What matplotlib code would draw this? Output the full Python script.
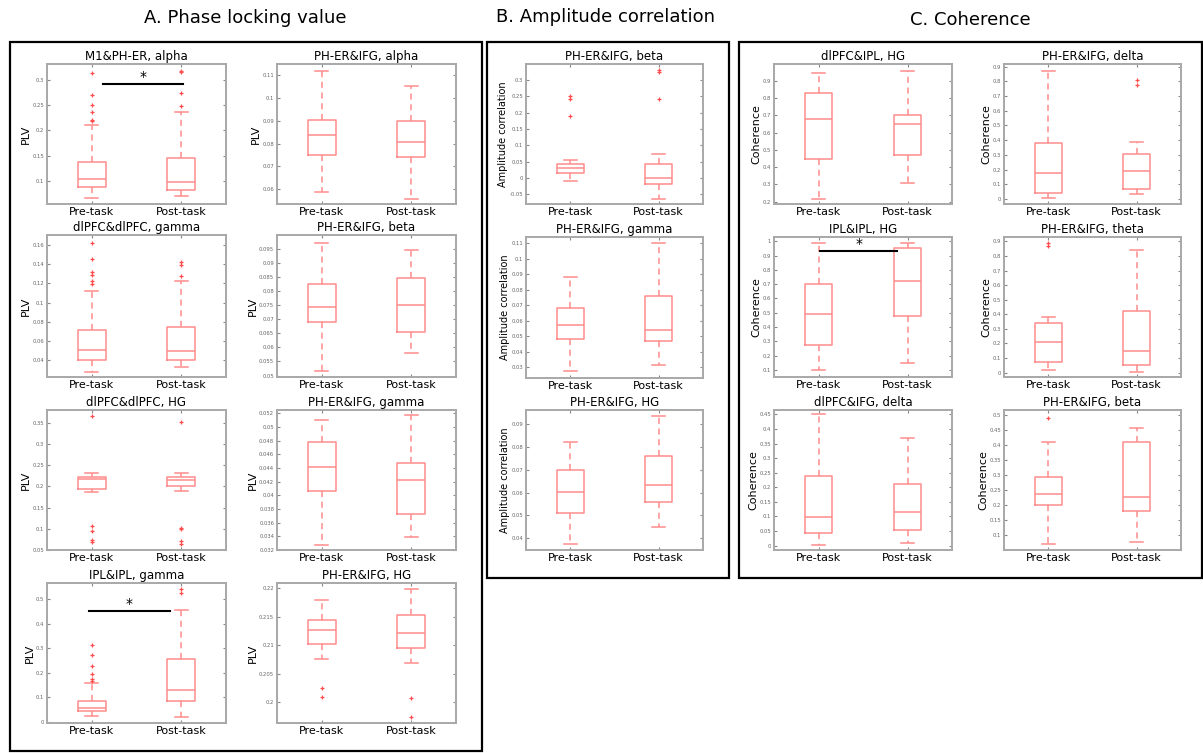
import numpy as np
import matplotlib.pyplot as plt
from matplotlib.patches import Rectangle

W, H = 1203, 753
groups = ["Pre-task", "Post-task"]

# box stats per condition: [whisker low, q1, median, q3, whisker high]
# --- A. Phase locking value ---
m1pher_alpha = [[0.066, 0.089, 0.1046, 0.137, 0.211], [0.070, 0.082, 0.099, 0.145, 0.237]]
m1pher_alpha_out = [[0.313, 0.269, 0.250, 0.237, 0.221, 0.219], [0.317, 0.315, 0.274, 0.248]]
m1pher_alpha_ticks = [0.1, 0.15, 0.2, 0.25, 0.3]

pherifg_alpha = [[0.059, 0.0751, 0.0838, 0.0902, 0.1119], [0.0559, 0.0740, 0.0806, 0.0899, 0.1051]]
pherifg_alpha_out = [[], []]
pherifg_alpha_ticks = [0.06, 0.07, 0.08, 0.09, 0.1, 0.11]

dlpfc_gamma = [[0.0274, 0.040, 0.0508, 0.0714, 0.1118], [0.0327, 0.0403, 0.049, 0.0745, 0.1227]]
dlpfc_gamma_out = [[0.1617, 0.145, 0.1317, 0.129, 0.122, 0.119], [0.142, 0.139, 0.128]]
dlpfc_gamma_ticks = [0.04, 0.06, 0.08, 0.1, 0.12, 0.14, 0.16]

pherifg_beta = [[0.0517, 0.0690, 0.0744, 0.0826, 0.0971], [0.058, 0.0655, 0.0749, 0.0846, 0.0945]]
pherifg_beta_out = [[], []]
pherifg_beta_ticks = [0.05, 0.055, 0.06, 0.065, 0.07, 0.075, 0.08, 0.085, 0.09, 0.095]

dlpfc_hg = [[0.1867, 0.194, 0.2172, 0.221, 0.2305], [0.1883, 0.200, 0.2141, 0.221, 0.231]]
dlpfc_hg_out = [[0.3656, 0.106, 0.0945, 0.0734, 0.068], [0.3508, 0.102, 0.100, 0.071, 0.065]]
dlpfc_hg_ticks = [0.05, 0.1, 0.15, 0.2, 0.25, 0.3, 0.35]

pherifg_gamma = [[0.0328, 0.0407, 0.0442, 0.0478, 0.0511], [0.0339, 0.0373, 0.0423, 0.0447, 0.0517]]
pherifg_gamma_out = [[], []]
pherifg_gamma_ticks = [0.032, 0.034, 0.036, 0.038, 0.04, 0.042, 0.044, 0.046, 0.048, 0.05, 0.052]

ipl_gamma = [[0.0219, 0.0423, 0.0546, 0.0861, 0.157], [0.019, 0.086, 0.130, 0.257, 0.456]]
ipl_gamma_out = [[0.3115, 0.2705, 0.228, 0.194, 0.1735, 0.165], [0.542, 0.525]]
ipl_gamma_ticks = [0, 0.1, 0.2, 0.3, 0.4, 0.5]

pherifg_hg = [[0.20754, 0.2103, 0.2126, 0.2144, 0.2180], [0.2069, 0.2096, 0.2122, 0.2153, 0.2199]]
pherifg_hg_out = [[0.2026, 0.2010], [0.2008, 0.1975]]
pherifg_hg_ticks = [0.2, 0.205, 0.21, 0.215, 0.22]

# --- B. Amplitude correlation ---
amp_beta = [[-0.0083, 0.0161, 0.0303, 0.0437, 0.0556], [-0.0632, -0.0175, 0.0008, 0.0415, 0.075]]
amp_beta_out = [[0.251, 0.243, 0.189], [0.3295, 0.3244, 0.242]]
amp_beta_ticks = [-0.05, 0, 0.05, 0.1, 0.15, 0.2, 0.25, 0.3]

amp_gamma = [[0.0274, 0.0482, 0.0570, 0.0684, 0.0881], [0.0313, 0.0470, 0.0540, 0.0757, 0.110]]
amp_gamma_out = [[], []]
amp_gamma_ticks = [0.03, 0.04, 0.05, 0.06, 0.07, 0.08, 0.09, 0.1, 0.11]

amp_hg = [[0.0374, 0.0509, 0.0603, 0.0700, 0.0821], [0.0448, 0.0557, 0.0632, 0.0760, 0.0935]]
amp_hg_out = [[], []]
amp_hg_ticks = [0.04, 0.05, 0.06, 0.07, 0.08, 0.09]

# --- C. Coherence ---
coh_dlpfcipl_hg = [[0.2173, 0.449, 0.6765, 0.8287, 0.948], [0.311, 0.472, 0.653, 0.702, 0.9597]]
coh_dlpfcipl_hg_out = [[], []]
coh_dlpfcipl_hg_ticks = [0.2, 0.3, 0.4, 0.5, 0.6, 0.7, 0.8, 0.9]

coh_delta = [[0.0045, 0.043, 0.174, 0.380, 0.873], [0.034, 0.066, 0.192, 0.303, 0.391]]
coh_delta_out = [[], [0.81, 0.776]]
coh_delta_ticks = [0, 0.1, 0.2, 0.3, 0.4, 0.5, 0.6, 0.7, 0.8, 0.9]

coh_ipl_hg = [[0.10, 0.275, 0.49, 0.70, 0.985], [0.15, 0.48, 0.72, 0.95, 0.99]]
coh_ipl_hg_out = [[], []]
coh_ipl_hg_ticks = [0.1, 0.2, 0.3, 0.4, 0.5, 0.6, 0.7, 0.8, 0.9, 1]

coh_theta = [[0.02, 0.075, 0.21, 0.34, 0.38], [0.005, 0.05, 0.15, 0.42, 0.84]]
coh_theta_out = [[0.87, 0.89], []]
coh_theta_ticks = [0, 0.1, 0.2, 0.3, 0.4, 0.5, 0.6, 0.7, 0.8, 0.9]

coh_dlpfcifg_delta = [[0.003, 0.045, 0.097, 0.24, 0.45], [0.01, 0.055, 0.115, 0.21, 0.37]]
coh_dlpfcifg_delta_out = [[], []]
coh_dlpfcifg_delta_ticks = [0, 0.05, 0.1, 0.15, 0.2, 0.25, 0.3, 0.35, 0.4, 0.45]

coh_beta = [[0.07, 0.20, 0.235, 0.293, 0.41], [0.077, 0.18, 0.225, 0.41, 0.455]]
coh_beta_out = [[0.49], []]
coh_beta_ticks = [0.1, 0.15, 0.2, 0.25, 0.3, 0.35, 0.4, 0.45, 0.5]

# significance bars: (x start, x end, y)
sig_m1pher = (1.13, 2.02, 0.291)
sig_ipl_gamma = (0.97, 1.87, 0.451)
sig_ipl_hg = (1.02, 1.88, 0.93)

BOX = "#ff8c8c"
FLY = "#ff4d4d"


def px_axes(fig, x0, x1, y0, y1):
    return fig.add_axes([x0 / W, 1 - y1 / H, (x1 - x0) / W, (y1 - y0) / H])


def draw(fig, rect, title, ylabel, stats, outs, ticks, ylim, sig=None, ylsize=8):
    ax = px_axes(fig, *rect)
    bx = []
    for s, o in zip(stats, outs):
        bx.append(dict(whislo=s[0], q1=s[1], med=s[2], q3=s[3], whishi=s[4], fliers=o))
    ax.bxp(bx, positions=[1, 2], widths=0.31, capwidths=0.15,
           boxprops=dict(color=BOX, lw=1.1),
           medianprops=dict(color=BOX, lw=1.1),
           whiskerprops=dict(color=BOX, lw=1.1, linestyle=(0, (4, 3))),
           capprops=dict(color=BOX, lw=1.1),
           flierprops=dict(marker="+", markeredgecolor=FLY, markersize=3.5, markeredgewidth=0.9))
    ax.set_xlim(0.5, 2.5)
    ax.set_ylim(*ylim)
    ax.set_yticks(ticks)
    ax.set_yticklabels([f"{t:g}" for t in ticks])
    ax.set_xticks([1, 2])
    ax.set_xticklabels(groups, fontsize=8)
    ax.tick_params(axis="y", labelsize=3.8, labelcolor="#666666", direction="in",
                   length=2, color="#888888", right=True, pad=2)
    ax.tick_params(axis="x", direction="in", length=2, color="#888888", top=True, pad=2)
    for sp in ax.spines.values():
        sp.set_color("#a8a8a8")
        sp.set_linewidth(1.4)
    ax.set_title(title, fontsize=8.5, pad=3)
    ax.set_ylabel(ylabel, fontsize=ylsize, labelpad=1)
    if sig is not None:
        ax.plot([sig[0], sig[1]], [sig[2], sig[2]], color="black", lw=1.5)
        ax.text((sig[0] + sig[1]) / 2, sig[2], "*", ha="center", va="bottom", fontsize=10)
    return ax


fig = plt.figure(figsize=(W / 100, H / 100), dpi=100)

# panel frames and headings
for x0, y0, x1, y1 in [(10, 42, 482, 751), (487, 42, 729, 578), (739, 42, 1202, 578)]:
    fig.patches.append(Rectangle((x0 / W, 1 - y1 / H), (x1 - x0) / W, (y1 - y0) / H,
                                 transform=fig.transFigure, fill=False, lw=1.6, ec="black"))
fig.text(245 / W, 1 - 18 / H, "A. Phase locking value", ha="center", va="center", fontsize=13)
fig.text(606 / W, 1 - 17 / H, "B. Amplitude correlation", ha="center", va="center", fontsize=13)
fig.text(970 / W, 1 - 20 / H, "C. Coherence", ha="center", va="center", fontsize=13)

ac1, ac2 = (47, 226), (277, 456)
ar = [(64, 204), (235, 377), (410, 550), (583, 723)]
draw(fig, (*ac1, *ar[0]), "M1&PH-ER, alpha", "PLV", m1pher_alpha, m1pher_alpha_out,
     m1pher_alpha_ticks, (0.055, 0.331), sig_m1pher)
draw(fig, (*ac2, *ar[0]), "PH-ER&IFG, alpha", "PLV", pherifg_alpha, pherifg_alpha_out,
     pherifg_alpha_ticks, (0.0536, 0.1148))
draw(fig, (*ac1, *ar[1]), "dlPFC&dlPFC, gamma", "PLV", dlpfc_gamma, dlpfc_gamma_out,
     dlpfc_gamma_ticks, (0.0222, 0.1705))
draw(fig, (*ac2, *ar[1]), "PH-ER&IFG, beta", "PLV", pherifg_beta, pherifg_beta_out,
     pherifg_beta_ticks, (0.0495, 0.0998))
draw(fig, (*ac1, *ar[2]), "dlPFC&dlPFC, HG", "PLV", dlpfc_hg, dlpfc_hg_out,
     dlpfc_hg_ticks, (0.05, 0.3797))
draw(fig, (*ac2, *ar[2]), "PH-ER&IFG, gamma", "PLV", pherifg_gamma, pherifg_gamma_out,
     pherifg_gamma_ticks, (0.032, 0.0525))
draw(fig, (*ac1, *ar[3]), "IPL&IPL, gamma", "PLV", ipl_gamma, ipl_gamma_out,
     ipl_gamma_ticks, (-0.0055, 0.5656), sig_ipl_gamma)
draw(fig, (*ac2, *ar[3]), "PH-ER&IFG, HG", "PLV", pherifg_hg, pherifg_hg_out,
     pherifg_hg_ticks, (0.1964, 0.2209))

bc = (526, 703)
br = [(64, 204), (237, 378), (410, 550)]
draw(fig, (*bc, *br[0]), "PH-ER&IFG, beta", "Amplitude correlation", amp_beta, amp_beta_out,
     amp_beta_ticks, (-0.0795, 0.349), ylsize=7)
draw(fig, (*bc, *br[1]), "PH-ER&IFG, gamma", "Amplitude correlation", amp_gamma, amp_gamma_out,
     amp_gamma_ticks, (0.0231, 0.1139), ylsize=7)
draw(fig, (*bc, *br[2]), "PH-ER&IFG, HG", "Amplitude correlation", amp_hg, amp_hg_out,
     amp_hg_ticks, (0.0349, 0.0961), ylsize=7)

cc1, cc2 = (774, 952), (1004, 1181)
cr = [(64, 204), (237, 377), (410, 550)]
draw(fig, (*cc1, *cr[0]), "dlPFC&IPL, HG", "Coherence", coh_dlpfcipl_hg, coh_dlpfcipl_hg_out,
     coh_dlpfcipl_hg_ticks, (0.1865, 0.998))
draw(fig, (*cc2, *cr[0]), "PH-ER&IFG, delta", "Coherence", coh_delta, coh_delta_out,
     coh_delta_ticks, (-0.034, 0.918))
draw(fig, (*cc1, *cr[1]), "IPL&IPL, HG", "Coherence", coh_ipl_hg, coh_ipl_hg_out,
     coh_ipl_hg_ticks, (0.05, 1.03), sig_ipl_hg)
draw(fig, (*cc2, *cr[1]), "PH-ER&IFG, theta", "Coherence", coh_theta, coh_theta_out,
     coh_theta_ticks, (-0.03, 0.93))
draw(fig, (*cc1, *cr[2]), "dlPFC&IFG, delta", "Coherence", coh_dlpfcifg_delta,
     coh_dlpfcifg_delta_out, coh_dlpfcifg_delta_ticks, (-0.015, 0.465))
draw(fig, (*cc2, *cr[2]), "PH-ER&IFG, beta", "Coherence", coh_beta, coh_beta_out,
     coh_beta_ticks, (0.05, 0.515))

fig.savefig("out.png", dpi=100)
